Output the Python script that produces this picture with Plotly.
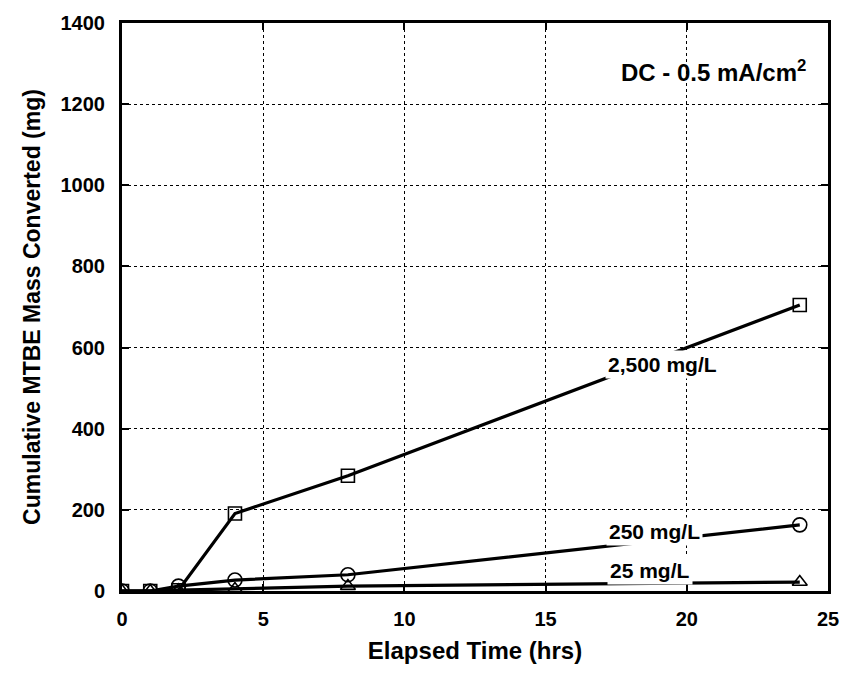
import plotly.graph_objects as go

# Elapsed time (hrs) and cumulative MTBE mass converted (mg) per feed concentration
time_hrs = [0, 1, 2, 4, 8, 24]
mass_2500 = [0, 0, 2, 191, 284, 705]
mass_250 = [0, 0, 12, 27, 40, 163]
mass_25 = [0, 0, 2, 5, 12, 22]

x_ticks = [0, 5, 10, 15, 20, 25]
y_ticks = [0, 200, 400, 600, 800, 1000, 1200, 1400]

FONT = "Liberation Sans, Arial, Helvetica, sans-serif"

series = [
    ("2,500 mg/L", mass_2500, "square-open", 13),
    ("250 mg/L", mass_250, "circle-open", 14),
    ("25 mg/L", mass_25, "triangle-up-open", 13),
]

fig = go.Figure()
for name, vals, sym, size in series:
    fig.add_trace(go.Scatter(
        x=time_hrs, y=vals, name=name, mode="lines+markers",
        line=dict(color="black", width=3.2),
        marker=dict(symbol=sym, size=size, color="black",
                    line=dict(color="black", width=1.6)),
        showlegend=False,
    ))

# Inline series labels placed over their lines
labels = [
    ("2,500 mg/L", 19.15, 558),
    ("250 mg/L", 18.85, 146),
    ("25 mg/L", 18.7, 50),
]
for text, lx, ly in labels:
    fig.add_annotation(x=lx, y=ly, xref="x", yref="y", text=text,
                       showarrow=False, bgcolor="white",
                       font=dict(family=FONT, size=21, color="black", weight="bold"),
                       borderpad=2)

fig.add_annotation(x=0.972, y=0.915, xref="paper", yref="paper",
                   text="DC - 0.5 mA/cm<sup>2</sup>", showarrow=False,
                   xanchor="right", yanchor="middle",
                   font=dict(family=FONT, size=24, color="black", weight="bold"))

axis_common = dict(
    showline=True, linecolor="black", linewidth=3, mirror="ticks",
    ticks="inside", ticklen=7, tickwidth=1.5, tickcolor="black",
    showgrid=True, gridcolor="black", gridwidth=1, griddash="dot",
    zeroline=False,
    tickfont=dict(family=FONT, size=20, color="black", weight="bold"),
)

fig.update_xaxes(range=[0, 25], tickvals=x_ticks, ticklabelstandoff=8,
                 title=dict(text="Elapsed Time (hrs)", standoff=14,
                            font=dict(family=FONT, size=24, color="black", weight="bold")),
                 **axis_common)
fig.update_yaxes(range=[0, 1400], tickvals=y_ticks, ticklabelstandoff=10,
                 title=dict(text="Cumulative MTBE Mass Converted (mg)", standoff=14,
                            font=dict(family=FONT, size=23, color="black", weight="bold")),
                 **axis_common)

fig.update_layout(
    width=851, height=676,
    margin=dict(l=122, r=16, t=19, b=85),
    plot_bgcolor="white", paper_bgcolor="white",
    font=dict(family=FONT, color="black"),
)

fig.write_html("out.html")
